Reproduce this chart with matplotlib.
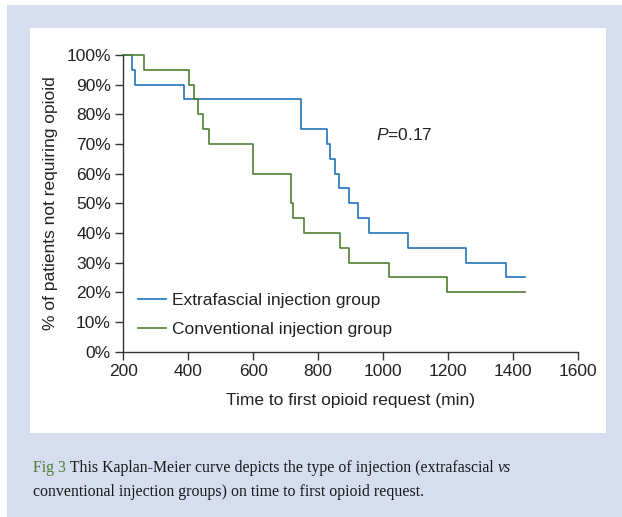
import matplotlib
matplotlib.use("Agg")
import matplotlib.pyplot as plt
from matplotlib.patches import Rectangle
from matplotlib.ticker import PercentFormatter

#################
# Data
#################
extra_times = [200, 227, 234, 386, 747, 826, 836, 852, 865, 896, 922, 957, 1077, 1256, 1380, 1439]
extra_surv = [1.00, 0.95, 0.90, 0.85, 0.75, 0.70, 0.65, 0.60, 0.55, 0.50, 0.45, 0.40, 0.35, 0.30, 0.25, 0.25]

conv_times = [200, 262, 402, 416, 430, 446, 462, 598, 716, 723, 757, 867, 896, 1017, 1197, 1439]
conv_surv = [1.00, 0.95, 0.90, 0.85, 0.80, 0.75, 0.70, 0.60, 0.50, 0.45, 0.40, 0.35, 0.30, 0.25, 0.20, 0.20]

x_ticks = [200, 400, 600, 800, 1000, 1200, 1400, 1600]
y_ticks = [0, 0.1, 0.2, 0.3, 0.4, 0.5, 0.6, 0.7, 0.8, 0.9, 1.0]

BLUE = '#2472bd'
GREEN = '#4f7f34'
PANEL = '#d5ddef'

plt.rcParams['font.family'] = ['Liberation Sans', 'DejaVu Sans']
plt.rcParams['mathtext.fontset'] = 'custom'
plt.rcParams['mathtext.it'] = 'Liberation Sans:italic'
plt.rcParams['mathtext.rm'] = 'Liberation Sans'

W, H = 622, 517
fig = plt.figure(figsize=(W / 100, H / 100), dpi=100)
fig.patch.set_facecolor('white')

# background panels (pixel coords -> figure fraction)
def px_rect(x0, y0, x1, y1, color):
    r = Rectangle((x0 / W, 1 - y1 / H), (x1 - x0) / W, (y1 - y0) / H,
                  transform=fig.transFigure, facecolor=color, edgecolor='none', zorder=-10)
    fig.patches.append(r)

px_rect(7, 5, 622, 517, PANEL)
px_rect(30, 28, 606, 433, 'white')

# axes box
ax_l, ax_r, ax_t, ax_b = 123.5, 577.7, 55.0, 351.5
ax = fig.add_axes([ax_l / W, 1 - ax_b / H, (ax_r - ax_l) / W, (ax_b - ax_t) / H])
ax.set_facecolor('none')

ax.step(extra_times, extra_surv, where='post', color=BLUE, lw=1.2,
        label='Extrafascial injection group', clip_on=False)
ax.step(conv_times, conv_surv, where='post', color=GREEN, lw=1.2,
        label='Conventional injection group', clip_on=False)

ax.set_xlim(200, 1600)
ax.set_ylim(0, 1)
ax.set_xticks(x_ticks)
ax.set_yticks(y_ticks)
ax.yaxis.set_major_formatter(PercentFormatter(1.0, decimals=0))
for s in ['top', 'right']:
    ax.spines[s].set_visible(False)
for s in ['left', 'bottom']:
    ax.spines[s].set_color('#333333')
    ax.spines[s].set_linewidth(1.0)
ax.tick_params(axis='both', direction='out', length=6, width=1.0, color='#333333',
               labelsize=12.5, labelcolor='#222222')
ax.tick_params(axis='y', pad=3)
ax.tick_params(axis='x', pad=3)

ax.set_xlabel('Time to first opioid request (min)', fontsize=12.5, color='#222222', labelpad=10)
ax.set_ylabel('% of patients not requiring opioid', fontsize=12.5, color='#222222', labelpad=6)

ax.text(0.555, 0.715, r'$P$=0.17', transform=ax.transAxes, fontsize=12.5, color='#222222')

leg = ax.legend(loc='lower left', bbox_to_anchor=(0.016, 0.025), frameon=False, fontsize=12.5,
                handlelength=1.65, handletextpad=0.3, labelspacing=0.8, borderaxespad=0.0)
for t in leg.get_texts():
    t.set_color('#222222')

# caption
cap_font = ['Liberation Serif']
cap_size = 11.4
t1 = fig.text(33 / W, 1 - 468 / H, 'Fig 3', color=GREEN, fontsize=cap_size, family=cap_font, va='center')
t2 = fig.text(0, 0, ' This Kaplan-Meier curve depicts the type of injection (extrafascial ',
              fontsize=cap_size, family=cap_font, color='#1a1a1a', va='center')
fig.canvas.draw()
r = fig.canvas.get_renderer()
bb = t1.get_window_extent(r)
t2.set_position((bb.x1 / W, 1 - 468 / H))
bb2 = t2.get_window_extent(r)
fig.text(bb2.x1 / W, 1 - 468 / H, 'vs', fontsize=cap_size, family=cap_font, style='italic',
         color='#1a1a1a', va='center')
fig.text(33 / W, 1 - 492 / H, 'conventional injection groups) on time to first opioid request.',
         fontsize=cap_size, family=cap_font, color='#1a1a1a', va='center')

fig.savefig('out.png', dpi=100)
